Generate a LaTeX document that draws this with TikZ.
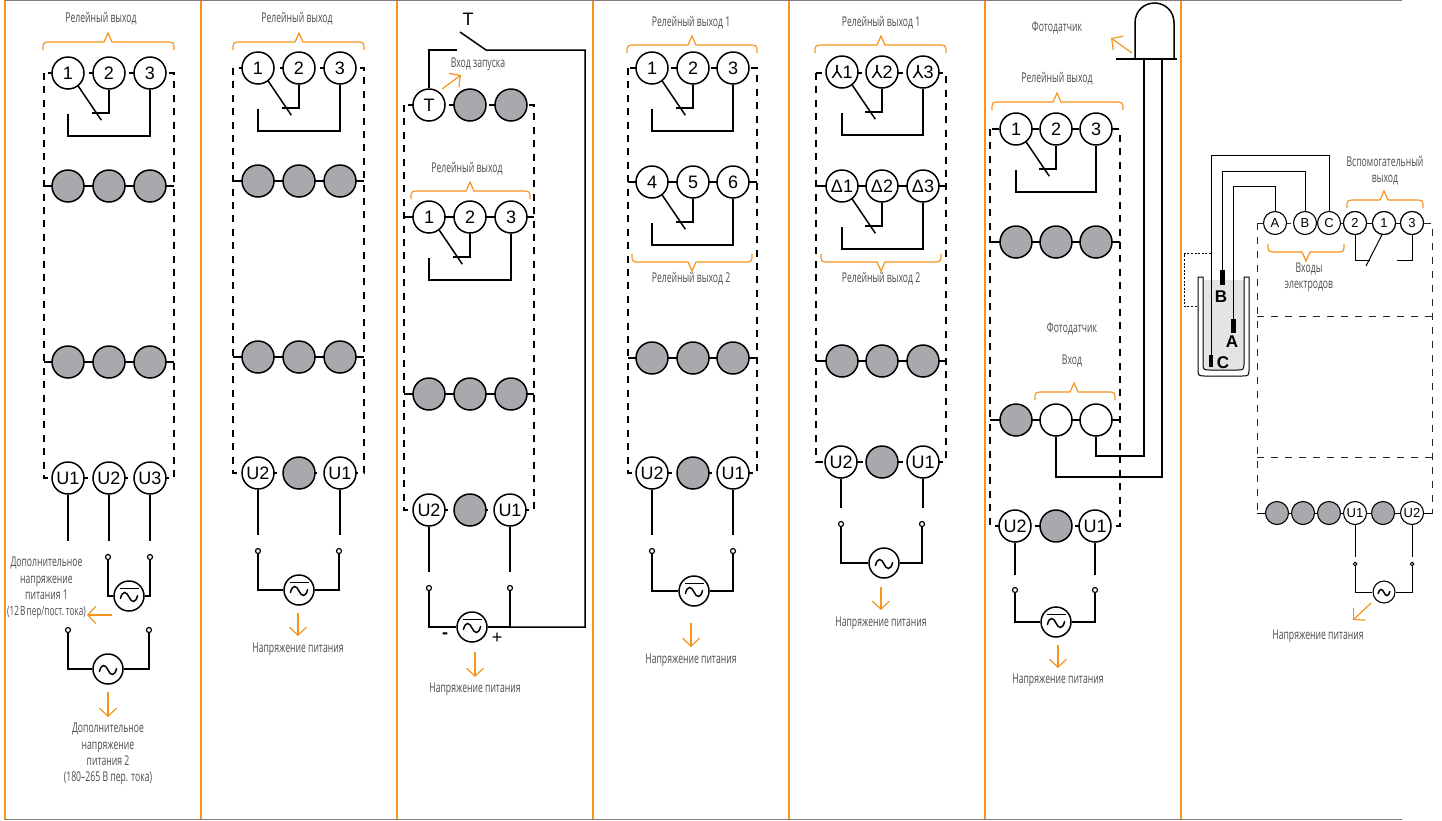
\documentclass[tikz,border=0pt]{standalone}
\usepackage{fontspec}
\usetikzlibrary{arrows.meta,calc}
\setmainfont{Liberation Sans}
\newfontfamily\lab[FakeStretch=0.64]{Open Sans}
\newfontfamily\djv{DejaVu Sans}
\definecolor{org}{HTML}{F7941D}
\definecolor{gfill}{HTML}{A7A9AC}
\definecolor{tcol}{HTML}{4D4D4F}
\definecolor{liq}{HTML}{E3E4E5}
\tikzset{
 x=1pt,y=-1pt,
 wire/.style={line width=1.5pt,black,line join=miter},
 thin wire/.style={line width=1pt,black},
 dbox/.style={line width=1.5pt,dash pattern=on 7pt off 6.4pt,black},
 dboxs/.style={line width=1pt,dash pattern=on 7pt off 7pt,black!85},
 obr/.style={line width=1.2pt,org},
 oarr/.style={line width=1.2pt,org,-{Straight Barb[length=8pt,width=17pt,line width=1.2pt]}},
 pinw/.style={circle,draw=black,line width=1.5pt,fill=white,minimum size=32pt,inner sep=0pt,font=\fontsize{18}{18}\selectfont},
 ping/.style={pinw,fill=gfill},
 spinw/.style={circle,draw=black,line width=1.1pt,fill=white,minimum size=23pt,inner sep=0pt,font=\fontsize{13}{13}\selectfont},
 sping/.style={spinw,fill=gfill},
 term/.style={circle,draw=black,line width=1.2pt,fill=white,minimum size=5pt,inner sep=0pt},
 sterm/.style={circle,draw=black,line width=1pt,fill=white,minimum size=3.6pt,inner sep=0pt},
 src/.style={circle,draw=black,line width=1.5pt,fill=white,minimum size=30pt,inner sep=0pt},
 ssrc/.style={circle,draw=black,line width=1.1pt,fill=white,minimum size=22pt,inner sep=0pt},
 lbl/.style={text=tcol,align=center,inner sep=0pt,yshift=-1pt,font={\lab\fontsize{13.5}{16.3}\selectfont}},
}
\newcommand{\PW}[4]{\node[pinw] (#1) at (#2,#3) {#4};}
\newcommand{\PG}[3]{\node[ping] (#1) at (#2,#3) {};}
\newcommand{\LB}[4]{\node[lbl] (#1) at (#2,#3) {#4};}
\newcommand{\TM}[3]{\node[term] (#1) at (#2,#3) {};}
\newcommand{\YY}{{\djv\fontsize{18}{18}\selectfont ⅄}}
% brace: x1 x2 y xpeak dir
\newcommand{\OB}[5]{\draw[obr] (#1,#3+8*#5) .. controls (#1,#3) and (#1,#3) .. (#1+9,#3) -- (#4-4,#3) -- (#4,#3-9*#5) -- (#4+4,#3) -- (#2-9,#3) .. controls (#2,#3) and (#2,#3) .. (#2,#3+8*#5);}
% relay symbol between three named pins
\newcommand{\RLY}[3]{%
 \draw[wire] (#1.-52) -- ++(23,34);
 \draw[wire] (#2.south) -- ($(#2)+(0,40)$) -- ++(-17,0);
 \draw[wire] ($(#1)+(0,41)$) |- ($(#1)+(0,63)$) -| (#3.south);}
% AC wave at centre with scale
\newcommand{\WAVE}[3]{\draw[line width=1.5pt,line cap=round,shift={(#1,#2)},scale=#3] (-9,1.5) .. controls (-7,-7) and (-2.5,-6) .. (0,0) .. controls (2.5,6) and (7,7) .. (9,-1.5);}
\newcommand{\DCBAR}[3]{\draw[line width=1.5pt,shift={(#1,#2)},scale=#3] (-10,-8) -- (10,-8);}
% stub from a pin to a free end
\newcommand{\STUB}[2]{\coordinate (#1-end) at ($(#1)+(0,#2)$); \draw[wire] (#1.south) -- (#1-end);}
% supply: name, x y, t1x t1y t2x
\newcommand{\SUP}[6]{%
 \TM{#1a}{#4}{#5}\TM{#1b}{#6}{#5}
 \node[src] (#1) at (#2,#3) {};
 \draw[wire] (#1a.south) |- (#1.west);
 \draw[wire] (#1b.south) |- (#1.east);
 \WAVE{#2}{#3+1}{0.95}}
\begin{document}
\begin{tikzpicture}
\useasboundingbox (0,0) rectangle (1442,820);
\fill[white] (0,0) rectangle (1442,820);
% frame
\foreach \xx in {5,201,397,593,789,985,1181} \draw[org,line width=1.3pt] (\xx,0) -- (\xx,820);
\draw[gray,line width=1.5pt] (5,0) -- (1402,0);
\draw[gray,line width=1.5pt] (5,819.5) -- (1402,819.5);

% ---------- column 1
\LB{t1a}{101}{18}{Релейный выход}
\OB{43}{174}{42}{108}{1}
\draw[dbox] (44,73) rectangle (174,478);
\draw[wire] (44,186) -- (174,186);
\draw[wire] (44,362) -- (174,362);
\PW{a1}{68}{73}{1}\PW{a2}{109}{73}{2}\PW{a3}{150}{73}{3}
\RLY{a1}{a2}{a3}
\PG{ag1}{68}{186}\PG{ag2}{109}{186}\PG{ag3}{150}{186}
\PG{ag4}{68}{362}\PG{ag5}{109}{362}\PG{ag6}{150}{362}
\PW{au1}{68}{478}{U1}\PW{au2}{109}{478}{U2}\PW{au3}{150}{478}{U3}
\STUB{au1}{63}\STUB{au2}{63}\STUB{au3}{63}
\SUP{as1}{129}{596}{108}{557}{150}
\DCBAR{129}{596}{0.95}
\draw[oarr] (112,615) -- (87,615);
\LB{t1b}{46.5}{587}{Дополнительное\\напряжение\\питания 1\\\fontsize{12.8}{16.3}\selectfont\spaceskip=1.2pt(12 В пер/пост. тока)}
\SUP{as2}{108}{669}{68}{630}{149}
\draw[oarr] (108,692) -- (108,717);
\LB{t1c}{108}{753}{Дополнительное\\напряжение\\питания 2\\(180–265 В пер. тока)}

% ---------- column 2
\LB{t2a}{297}{18}{Релейный выход}
\OB{233}{364}{42}{299}{1}
\draw[dbox] (233,68) rectangle (364,473);
\draw[wire] (233,181) -- (364,181);
\draw[wire] (233,357) -- (364,357);
\PW{b1}{258}{68}{1}\PW{b2}{299}{68}{2}\PW{b3}{340}{68}{3}
\RLY{b1}{b2}{b3}
\PG{bg1}{258}{181}\PG{bg2}{299}{181}\PG{bg3}{340}{181}
\PG{bg4}{258}{357}\PG{bg5}{299}{357}\PG{bg6}{340}{357}
\PW{bu2}{258}{473}{U2}\PG{bg7}{299}{473}\PW{bu1}{340}{473}{U1}
\STUB{bu2}{62}\STUB{bu1}{62}
\SUP{bs}{299}{590}{258}{551}{339}
\DCBAR{299}{590}{0.95}
\draw[oarr] (298,613) -- (298,636);
\LB{t2b}{298}{648}{Напряжение питания}

% ---------- column 3
\node[font=\fontsize{18}{18}\selectfont,inner sep=0pt] (t3t) at (468,19) {T};
\LB{t3a}{478}{63}{Вход запуска}
\LB{t3b}{467}{168}{Релейный выход}
\OB{411}{530}{191}{470}{1}
\draw[dbox] (404,105) rectangle (534,510);
\draw[wire] (404,217) -- (534,217);
\draw[wire] (404,394) -- (534,394);
\PW{c0}{429}{105}{T}\PG{cg1}{470}{105}\PG{cg2}{511}{105}
\PW{c1}{429}{217}{1}\PW{c2}{470}{217}{2}\PW{c3}{511}{217}{3}
\RLY{c1}{c2}{c3}
\PG{cg3}{429}{394}\PG{cg4}{470}{394}\PG{cg5}{511}{394}
\PW{cu2}{429}{510}{U2}\PG{cg6}{470}{510}\PW{cu1}{510}{510}{U1}
\STUB{cu2}{62}\STUB{cu1}{62}
\SUP{cs}{472}{627}{429}{588}{510}
\DCBAR{472}{627}{0.95}
\coordinate (swa) at (457,50);
\coordinate (swb) at (486,50);
\coordinate (swc) at (460,32);
\draw[wire] (c0.north) |- (swa);
\draw[wire] (swc) -- (swb) -| (585,627) -- (cs.east);
\draw[oarr] (442,89) -- (461,75);
\node[font=\fontsize{18}{18}\bfseries\selectfont,inner sep=0pt] (t3m) at (445,636) {-};
\node[font=\fontsize{18}{18}\selectfont,inner sep=0pt] (t3p) at (497,638) {+};
\draw[oarr] (475,652) -- (475,677);
\LB{t3c}{475}{688}{Напряжение питания}

% ---------- column 4
\LB{t4a}{691}{22}{Релейный выход 1}
\OB{627}{757}{45}{692}{1}
\LB{t4b}{691}{278}{Релейный выход 2}
\OB{632}{752}{262}{692}{-1}
\draw[dbox] (628,68) rectangle (757,473);
\draw[wire] (628,182) -- (757,182);
\draw[wire] (628,358) -- (757,358);
\PW{d1}{652}{68}{1}\PW{d2}{693}{68}{2}\PW{d3}{733}{68}{3}
\RLY{d1}{d2}{d3}
\PW{d4}{652}{182}{4}\PW{d5}{693}{182}{5}\PW{d6}{733}{182}{6}
\RLY{d4}{d5}{d6}
\PG{dg1}{652}{358}\PG{dg2}{693}{358}\PG{dg3}{733}{358}
\PW{du2}{652}{473}{U2}\PG{dg4}{693}{473}\PW{du1}{733}{473}{U1}
\STUB{du2}{62}\STUB{du1}{62}
\SUP{ds}{694}{591}{652}{551}{733}
\DCBAR{694}{591}{0.95}
\draw[oarr] (691,623) -- (691,647);
\LB{t4c}{691}{659}{Напряжение питания}

% ---------- column 5
\LB{t5a}{881}{22}{Релейный выход 1}
\OB{815}{946}{45}{881}{1}
\LB{t5b}{881}{278}{Релейный выход 2}
\OB{821}{941}{262}{881}{-1}
\draw[dbox] (816,73) rectangle (946,462);
\draw[wire] (816,186) -- (946,186);
\draw[wire] (816,361) -- (946,361);
\PW{e1}{842}{72}{\YY1}\PW{e2}{882}{72}{\YY2}\PW{e3}{923}{72}{\YY3}
\RLY{e1}{e2}{e3}
\PW{e4}{842}{186}{Δ1}\PW{e5}{882}{186}{Δ2}\PW{e6}{923}{186}{Δ3}
\RLY{e4}{e5}{e6}
\PG{eg1}{842}{361}\PG{eg2}{882}{361}\PG{eg3}{923}{361}
\PW{eu2}{841}{462}{U2}\PG{eg4}{882}{462}\PW{eu1}{923}{462}{U1}
\STUB{eu2}{46}\STUB{eu1}{46}
\SUP{es}{884}{563}{841}{524}{922}
\draw[oarr] (881,587) -- (881,610);
\LB{t5c}{881}{622}{Напряжение питания}

% ---------- column 6
\LB{t6a}{1057}{27}{Фотодатчик}
\LB{t6b}{1057}{78}{Релейный выход}
\OB{992}{1123}{102}{1057}{1}
\LB{t6c}{1072}{328}{Фотодатчик}
\LB{t6d}{1072}{360}{Вход}
\OB{1035}{1115}{392}{1074}{1}
\draw[dbox] (990,129) rectangle (1120,526);
\draw[wire] (990,242) -- (1120,242);
\draw[wire] (990,420) -- (1120,420);
\PW{f1}{1016}{129}{1}\PW{f2}{1056}{129}{2}\PW{f3}{1096}{129}{3}
\RLY{f1}{f2}{f3}
\PG{fg1}{1016}{242}\PG{fg2}{1056}{242}\PG{fg3}{1096}{242}
\PG{fg4}{1016}{420}\PW{f4}{1056}{420}{}\PW{f5}{1096}{420}{}
\PW{fu2}{1015}{526}{U2}\PG{fg5}{1056}{526}\PW{fu1}{1095}{526}{U1}
\STUB{fu2}{49}\STUB{fu1}{49}
\SUP{fs}{1056}{622}{1015}{590}{1095}
\DCBAR{1056}{622}{0.95}
\draw[oarr] (1058,645) -- (1058,668);
\LB{t6e}{1058}{679}{Напряжение питания}
\coordinate (pd1) at (1144,59);
\coordinate (pd2) at (1162,59);
\draw[wire] (1116,59) -- (1177,59);
\draw[wire] (1135,59) -- (1135,23) .. controls (1135,10) and (1145,3) .. (1154.5,3) .. controls (1164,3) and (1174,10) .. (1174,23) -- (1174,59);
\draw[wire] (pd1) |- (1096,456) -- (f5.south);
\draw[wire] (pd2) |- (1056,477) -- (f4.south);
\draw[oarr] (1132,53) -- (1111,38);

% ---------- column 7
\fill[liq] (1203,280) -- (1244,280) -- (1244,364) arc[start angle=0,end angle=90,radius=6] -- (1209,370) arc[start angle=90,end angle=180,radius=6] -- cycle;
\draw[thin wire] (1198,277) -- (1198,368) .. controls (1198,376) and (1198,376) .. (1206,376) -- (1241,376) .. controls (1249,376) and (1249,376) .. (1249,368) -- (1249,277) -- (1244,277) -- (1244,362) .. controls (1244,370) and (1244,370) .. (1236,370) -- (1211,370) .. controls (1203,370) and (1203,370) .. (1203,362) -- (1203,277) -- cycle;
\draw[line width=1pt,dash pattern=on 2pt off 1.6pt] (1211,253.5) -- (1184,253.5) -- (1184,306) -- (1198,306);
\draw[dboxs] (1257,223) -- (1257,513) -- (1432,513) -- (1432,223) -- cycle;
\draw[dboxs] (1257,316) -- (1432,316);
\draw[dboxs] (1257,457) -- (1432,457);
\node[spinw] (ga) at (1275,223) {A};
\node[spinw] (gb) at (1305,223) {B};
\node[spinw] (gc) at (1329,223) {C};
\node[spinw] (g2) at (1355,223) {2};
\node[spinw] (g1) at (1384,223) {1};
\node[spinw] (g3) at (1412,223) {3};
\draw[thin wire] (g2) -- (g1) -- (g3);
\node[spinw] at (g2) {2};\node[spinw] at (g1) {1};\node[spinw] at (g3) {3};
\draw[thin wire] (ga.north) |- (1233,186) -- (1233,319);
\draw[thin wire] (gb.north) |- (1222,171) -- (1222,270);
\draw[thin wire] (gc.north) |- (1211,155) -- (1211,355);
\fill (1230.5,319) rectangle (1235.5,333);
\fill (1219.5,270) rectangle (1224.5,285);
\fill (1208.5,355) rectangle (1213,367);
\node[font=\fontsize{17}{17}\bfseries\selectfont,inner sep=0pt] (lb) at (1221,297) {B};
\node[font=\fontsize{17}{17}\bfseries\selectfont,inner sep=0pt] (la) at (1232,342) {A};
\node[font=\fontsize{17}{17}\bfseries\selectfont,inner sep=0pt] (lc) at (1223,363) {C};
\draw[thin wire] (g2.south) |- (1370,260);
\draw[thin wire] (g1.-100) -- (1366,266);
\draw[thin wire] (g3.south) |- (1397,260);
\OB{1347}{1423}{200}{1384}{1}
\LB{t7a}{1385}{169.5}{Вспомогательный\\выход}
\OB{1268}{1344}{252}{1306}{-1}
\LB{t7b}{1309}{276}{Входы\\электродов}
\draw[thin wire] (1257,513) -- (1432,513);
\node[sping] (h1) at (1277,513) {};
\node[sping] (h2) at (1303,513) {};
\node[sping] (h3) at (1329,513) {};
\node[spinw] (hu1) at (1355,513) {U1};
\node[sping] (h4) at (1383,513) {};
\node[spinw] (hu2) at (1412,513) {U2};
\coordinate (hu1-end) at (1355,557);
\coordinate (hu2-end) at (1412,557);
\draw[thin wire] (hu1.south) -- (hu1-end);
\draw[thin wire] (hu2.south) -- (hu2-end);
\node[sterm] (hta) at (1355,564) {};
\node[sterm] (htb) at (1412,564) {};
\node[ssrc] (hs) at (1384,592) {};
\draw[thin wire] (hta.south) |- (hs.west);
\draw[thin wire] (htb.south) |- (hs.east);
\WAVE{1384}{592.5}{0.65}
\draw[oarr] (1371,603) -- (1353,620);
\LB{t7c}{1318}{635}{Напряжение питания}
\end{tikzpicture}
\end{document}
